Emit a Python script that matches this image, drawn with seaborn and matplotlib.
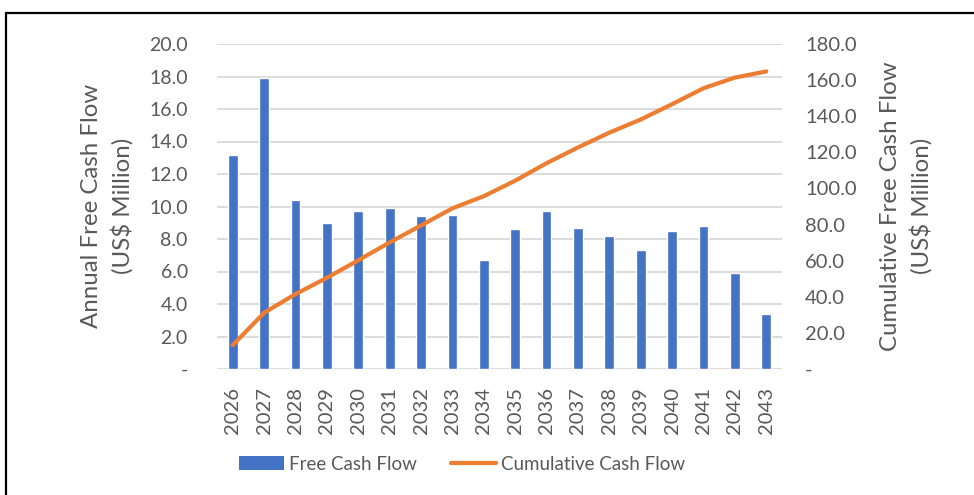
import matplotlib
matplotlib.use("Agg")
import matplotlib.pyplot as plt
import matplotlib.ticker as mticker
from matplotlib.patches import Patch
from matplotlib.lines import Line2D
import numpy as np
import pandas as pd
import seaborn as sns

years = ["2026", "2027", "2028", "2029", "2030", "2031", "2032", "2033", "2034",
         "2035", "2036", "2037", "2038", "2039", "2040", "2041", "2042", "2043"]
free_cash_flow = [13.2, 17.9, 10.4, 9.0, 9.7, 9.9, 9.4, 9.5, 6.7,
                  8.6, 9.7, 8.7, 8.2, 7.3, 8.5, 8.8, 5.9, 3.4]
cumulative_cash_flow = [13.2, 31.1, 41.5, 50.5, 60.2, 70.1, 79.5, 89.0, 95.7,
                        104.3, 114.0, 122.7, 130.9, 138.2, 146.7, 155.5, 161.4, 164.8]

BLUE = "#4472C4"
ORANGE = "#ED7D31"
GRID = "#D9D9D9"
TEXT = "#595959"

sns.set_theme(style="white")
plt.rcParams["font.family"] = ["Lato", "DejaVu Sans"]

df = pd.DataFrame({"year": years, "fcf": free_cash_flow,
                   "cum": cumulative_cash_flow, "pos": np.arange(len(years))})

fig = plt.figure(figsize=(9.74, 4.95), dpi=100)
ax = fig.add_axes([217 / 974, 1 - 369 / 495, 565 / 974, 325 / 495])

sns.barplot(data=df, x="year", y="fcf", color=BLUE, width=0.31,
            saturation=1, ax=ax, zorder=2)
ax.set_xlim(-0.5, len(years) - 0.5)
ax.set_ylim(0, 20)
ax.yaxis.set_major_locator(mticker.MultipleLocator(2))
ax.yaxis.set_major_formatter(mticker.FuncFormatter(
    lambda v, p: "-" if abs(v) < 1e-9 else f"{v:.1f}"))
ax.grid(axis="y", color=GRID, lw=1.3, zorder=0)
ax.grid(axis="x", visible=False)
ax.set_axisbelow(True)
ax.set_xlabel("")
ax.set_ylabel("")
for s in ax.spines.values():
    s.set_visible(False)
ax.tick_params(axis="y", length=0, pad=21, labelsize=14, labelcolor=TEXT)
ax.tick_params(axis="x", length=0, pad=13, labelsize=14.5, labelcolor=TEXT,
               labelrotation=90)

ax2 = ax.twinx()
sns.lineplot(data=df, x="pos", y="cum", color=ORANGE, lw=3,
             solid_capstyle="round", ax=ax2, zorder=3)
ax2.set_ylim(0, 180)
ax2.yaxis.set_major_locator(mticker.MultipleLocator(20))
ax2.yaxis.set_major_formatter(mticker.FuncFormatter(
    lambda v, p: "-" if abs(v) < 1e-9 else f"{v:.1f}"))
ax2.set_xlabel("")
ax2.set_ylabel("")
for s in ax2.spines.values():
    s.set_visible(False)
ax2.tick_params(axis="y", length=0, pad=16.5, labelsize=14.5, labelcolor=TEXT)
ax2.grid(False)

fig.text(107 / 974, 1 - 206 / 495, "Annual Free Cash Flow\n(US$ Million)",
         rotation=90, ha="center", va="center", multialignment="center",
         fontsize=17.3, color=TEXT, linespacing=1.45)
fig.text(906 / 974, 1 - 206 / 495, "Cumulative Free Cash Flow\n(US$ Million)",
         rotation=90, ha="center", va="center", multialignment="center",
         fontsize=17.3, color=TEXT, linespacing=1.45)

handles = [Patch(facecolor=BLUE, edgecolor="none"),
           Line2D([0], [0], color=ORANGE, lw=3, solid_capstyle="round")]
fig.legend(handles, ["Free Cash Flow", "Cumulative Cash Flow"],
           loc="center", bbox_to_anchor=(462 / 974, 1 - 464 / 495), ncol=2,
           frameon=False, fontsize=13.5, labelcolor=TEXT, handlelength=2.4,
           handleheight=0.75, handletextpad=0.3, columnspacing=1.8)

# frame lines along the top and left edges
fig.add_artist(Line2D([6 / 974, 1], [1 - 12.5 / 495, 1 - 12.5 / 495],
                      transform=fig.transFigure, color="black", lw=1.6))
fig.add_artist(Line2D([6 / 974, 6 / 974], [0, 1 - 12.5 / 495],
                      transform=fig.transFigure, color="black", lw=1.6))

fig.savefig("out.png", dpi=100, facecolor="white")
